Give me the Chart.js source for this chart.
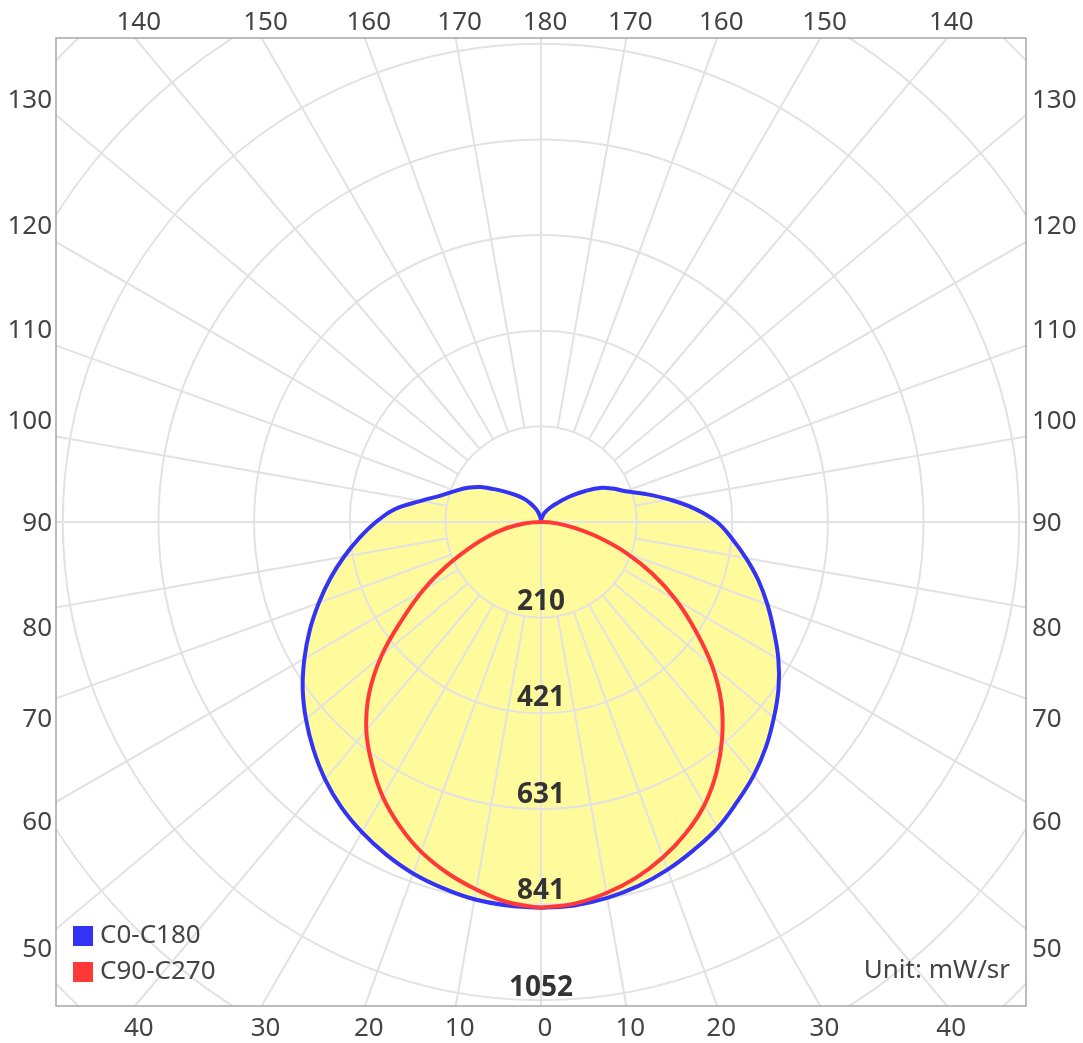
<!DOCTYPE html>
<html>
<head>
<meta charset="utf-8">
<script src="https://cdn.jsdelivr.net/npm/chart.js@4.4.0/dist/chart.umd.min.js"></script>
<style>
  html, body { margin: 0; padding: 0; background: #fff; }
  #wrap { width: 1083px; height: 1043px; }
</style>
</head>
<body>
<div id="wrap"><canvas id="chart" width="1083" height="1043"></canvas></div>
<script>
// gamma angle in degrees, 0 = straight down, 180 = straight up
const blueAngles = [0, 5, 10, 15, 20, 25, 30, 35, 40, 45, 50, 55, 60, 65, 70, 75, 80, 85, 90,
  95, 100, 105, 110, 115, 120, 125, 130, 135, 140, 145, 150, 155, 160, 165, 170, 175, 180];
// C0 half is drawn on the right, C180 on the left (mW/sr)
const c0Values = [849, 847, 840, 829, 814, 796, 777, 752, 728, 700, 669, 638, 603, 565, 530, 495, 458, 422, 387,
  339, 286, 238, 198, 174, 150, 119, 92, 70, 53, 42, 33, 26, 20, 13, 9, 4, 0];
const c180Values = [849, 847, 843, 834, 823, 807, 788, 766, 739, 708, 675, 640, 601, 561, 520, 480, 440, 401, 363,
  323, 268, 227, 200, 178, 154, 126, 104, 87, 73, 60, 48, 37, 29, 20, 13, 7, 0];

const redAngles = [0, 5, 10, 15, 20, 25, 30, 35, 40, 45, 50, 55, 60, 65, 70, 75, 80, 85, 90];
const c90Values = [849, 843, 829, 810, 785, 755, 719, 673, 620, 561, 491, 414, 343, 271, 200, 132, 75, 35, 0];
const c270Values = [849, 840, 821, 799, 772, 737, 697, 649, 598, 535, 458, 372, 299, 229, 167, 119, 76, 37, 0];

// radial rings
const ringTicks = [210, 421, 631, 841, 1052];
const ringStep = 210.4;
const ringCount = 7;

// angle lines and the angle labels round the frame (negative = left half)
const spokeAngles = [0, 10, 20, 30, 40, 50, 60, 70, 80, 90, 100, 110, 120, 130, 140, 150, 160, 170,
  180, 190, 200, 210, 220, 230, 240, 250, 260, 270, 280, 290, 300, 310, 320, 330, 340, 350];
const topTicks = [-140, -150, -160, -170, 180, 170, 160, 150, 140];
const bottomTicks = [-40, -30, -20, -10, 0, 10, 20, 30, 40];
const sideTicks = [50, 60, 70, 80, 90, 100, 110, 120, 130];

const seriesNames = ['C0-C180', 'C90-C270'];
const seriesColors = ['#3333f6', '#ff3838'];
const unitText = 'Unit: mW/sr';

const gridColor = '#e2e2e2';
const fillColor = '#fffb9c';
const textColor = '#444';
const labelFont = '26px "Noto Sans"';

function toXY(angles, values, side) {
  return angles.map((g, i) => {
    const rad = g * Math.PI / 180;
    return { x: side * values[i] * Math.sin(rad), y: -values[i] * Math.cos(rad) };
  });
}

// closed outlines: right half bottom -> top, then left half top -> bottom
const bluePoints = toXY(blueAngles, c0Values, 1)
  .concat(toXY(blueAngles.slice().reverse(), c180Values.slice().reverse(), -1).slice(1));
const redPoints = toXY(redAngles, c90Values, 1)
  .concat(toXY(redAngles.slice().reverse(), c270Values.slice().reverse(), -1).slice(1));

function drawGrid(chart) {
  const { ctx, chartArea: a, scales: { x, y } } = chart;
  const cx = x.getPixelForValue(0);
  const cy = y.getPixelForValue(0);
  const unit = x.getPixelForValue(ringStep) - cx;
  const far = x.getPixelForValue(3000) - cx;
  ctx.save();
  ctx.beginPath();
  ctx.rect(a.left, a.top, a.right - a.left, a.bottom - a.top);
  ctx.clip();
  ctx.strokeStyle = gridColor;
  ctx.lineWidth = 2;
  for (let k = 1; k <= ringCount; k++) {
    ctx.beginPath();
    ctx.arc(cx, cy, k * unit, 0, Math.PI * 2);
    ctx.stroke();
  }
  spokeAngles.forEach(g => {
    const r0 = g % 90 === 0 ? 0 : unit;
    const rad = g * Math.PI / 180;
    ctx.beginPath();
    ctx.moveTo(cx + r0 * Math.sin(rad), cy + r0 * Math.cos(rad));
    ctx.lineTo(cx + far * Math.sin(rad), cy + far * Math.cos(rad));
    ctx.stroke();
  });
  ctx.restore();
}

function drawRingLabels(chart) {
  const { ctx, scales: { x, y } } = chart;
  const cx = x.getPixelForValue(0);
  ctx.save();
  ctx.font = 'bold 28px "Noto Sans"';
  ctx.fillStyle = '#333';
  ctx.textAlign = 'center';
  ctx.textBaseline = 'middle';
  ringTicks.forEach((t, k) => {
    const py = y.getPixelForValue(-(k + 1) * ringStep);
    ctx.fillText(String(t), cx, py - 16 + k);
  });
  ctx.restore();
}

function drawFrame(chart) {
  const { ctx, chartArea: a, scales: { x, y } } = chart;
  ctx.save();
  ctx.strokeStyle = '#a6a6a6';
  ctx.lineWidth = 1.5;
  ctx.strokeRect(a.left, a.top, a.right - a.left, a.bottom - a.top);

  ctx.font = labelFont;
  ctx.fillStyle = textColor;
  ctx.textBaseline = 'middle';

  // top and bottom edges
  ctx.textAlign = 'center';
  topTicks.forEach(t => {
    const g = Math.abs(t) * Math.PI / 180;
    const side = Math.abs(t) === 180 ? 0 : Math.sign(t);
    const k = y.max / -Math.cos(g);
    const px = x.getPixelForValue(side * Math.sin(g) * k);
    ctx.fillText(String(Math.abs(t)), px + 4, a.top - 15);
  });
  bottomTicks.forEach(t => {
    const g = Math.abs(t) * Math.PI / 180;
    const k = -y.min / Math.cos(g);
    const px = x.getPixelForValue(Math.sign(t) * Math.sin(g) * k);
    ctx.fillText(String(Math.abs(t)), px + 4, a.bottom + 23);
  });

  // left and right edges
  sideTicks.forEach(t => {
    const g = t * Math.PI / 180;
    const k = x.max / Math.sin(g);
    const shift = t < 90 ? 21 : (t > 90 ? -15 : 2);
    const py = y.getPixelForValue(-Math.cos(g) * k) + shift;
    ctx.textAlign = 'right';
    ctx.fillText(String(t), a.left - 4, py);
    ctx.textAlign = 'left';
    ctx.fillText(String(t), a.right + 6, py);
  });

  // legend inside the plot, bottom left
  seriesNames.forEach((name, i) => {
    const ly = 936 + i * 36;
    ctx.fillStyle = seriesColors[i];
    ctx.fillRect(a.left + 17, ly - 10, 20, 20);
    ctx.fillStyle = textColor;
    ctx.textAlign = 'left';
    ctx.fillText(name, a.left + 44, ly);
  });

  ctx.textAlign = 'right';
  ctx.fillText(unitText, a.right - 16, 971);
  ctx.restore();
}

const polarPlugin = {
  id: 'polarPlugin',
  afterDatasetDraw(chart, args) {
    if (args.index === 2) drawGrid(chart);
  },
  afterDatasetsDraw(chart) {
    drawRingLabels(chart);
  },
  afterDraw(chart) {
    drawFrame(chart);
  }
};

new Chart(document.getElementById('chart').getContext('2d'), {
  type: 'scatter',
  data: {
    datasets: [
      {
        label: seriesNames[0],
        data: bluePoints,
        showLine: true,
        borderColor: seriesColors[0],
        borderWidth: 4,
        pointRadius: 0,
        tension: 0.4,
        fill: false,
        order: 1
      },
      {
        label: seriesNames[1],
        data: redPoints,
        showLine: true,
        borderColor: seriesColors[1],
        borderWidth: 4,
        pointRadius: 0,
        tension: 0.4,
        fill: false,
        order: 0
      },
      {
        label: 'fill',
        data: bluePoints,
        showLine: true,
        borderWidth: 0,
        borderColor: 'rgba(0,0,0,0)',
        backgroundColor: fillColor,
        pointRadius: 0,
        tension: 0.4,
        fill: 'shape',
        order: 2
      }
    ]
  },
  options: {
    responsive: false,
    animation: false,
    devicePixelRatio: 1,
    layout: { padding: { left: 56, top: 38, right: 57, bottom: 37 } },
    scales: {
      x: { type: 'linear', min: -1067, max: 1067, display: false },
      y: { type: 'linear', min: -1065, max: 1065, display: false }
    },
    plugins: {
      legend: { display: false },
      tooltip: { enabled: false }
    }
  },
  plugins: [polarPlugin]
});
</script>
</body>
</html>
